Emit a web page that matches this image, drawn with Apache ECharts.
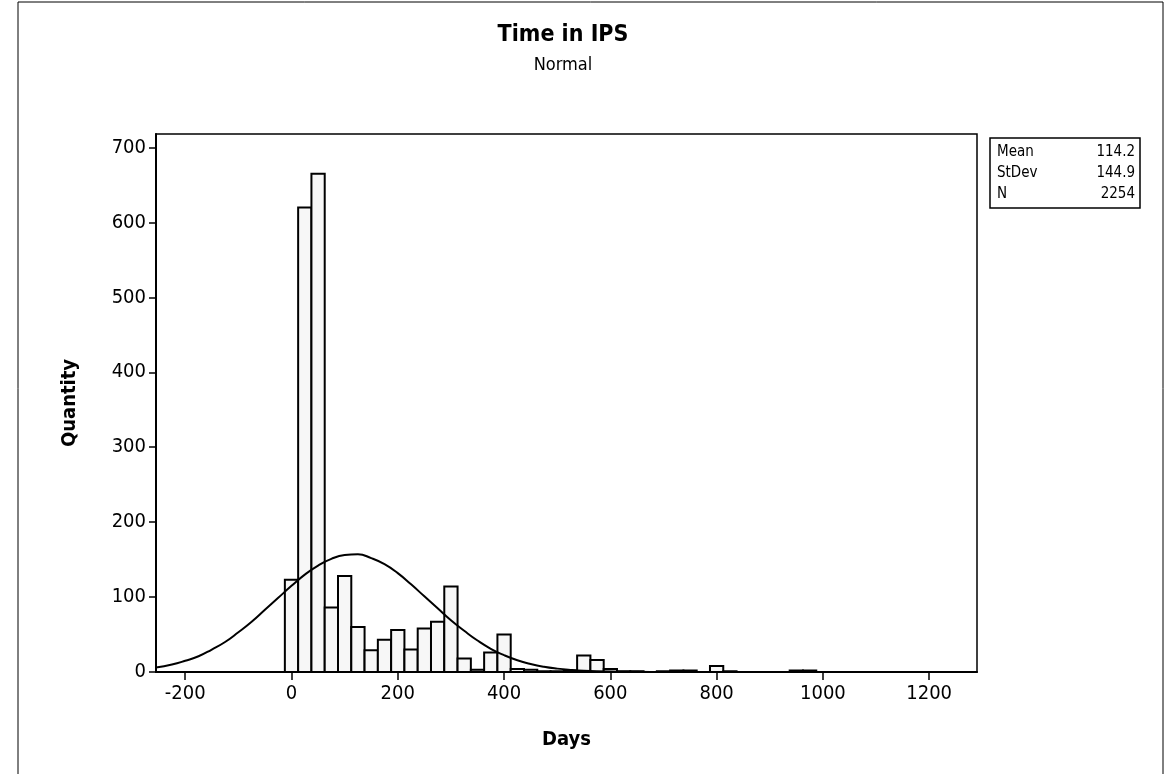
<!DOCTYPE html>
<html>
<head>
<meta charset="utf-8">
<script src="https://cdn.jsdelivr.net/npm/echarts@6/dist/echarts.min.js"></script>
<style>html,body{margin:0;padding:0;background:#fff}#c{width:1166px;height:774px}</style>
</head>
<body>
<div id="c"></div>
<script>
// Histogram bins (bin centers, days) and counts
const binCenters = [0,25,50,75,100,125,150,175,200,225,250,275,300,325,350,375,400,425,450,475,500,525,550,575,600,625,650,700,725,750,800,825,950,975];
const binCounts  = [123,620,665,86,128,60,29,43,56,30,58,67,114,18,3,26,50,4,3,1,1,2,22,16,4,1,1,1,2,2,8,1,2,2];
const binWidth = 25;
// Fitted normal curve
const curveX = [-255,-225,-200,-175,-150,-125,-100,-75,-50,-25,0,25,50,75,100,125,150,175,200,225,250,275,300,325,350,375,400,425,450,475,500,525,550,600,650,700,1290];
const curveY = [6,10,15,21,30,40,53,67,83,99,115,130,142,151,156,157,152,144,132,117,101,85,69,55,42,31,22.5,15.7,10.7,7,4.5,2.8,1.7,0.6,0.2,0,0];
const xTicks = [-200,0,200,400,600,800,1000,1200];
const yTicks = [0,100,200,300,400,500,600,700];
const titleText = 'Time in IPS';
const subtitleText = 'Normal';
const statLabels = ['Mean','StDev','N'];
const statValues = ['114.2','144.9','2254'];

const FONT = "'DejaVu Sans Condensed','DejaVu Sans',sans-serif";
const chart = echarts.init(document.getElementById('c'), null, {renderer:'canvas'});

const statsGraphics = [{
  type:'rect', shape:{x:990, y:138, width:150, height:70},
  style:{fill:'#fff', stroke:'#000', lineWidth:1.5}
}];
statLabels.forEach((l,i)=>{
  statsGraphics.push({type:'text', x:997, y:152+i*21, style:{text:l, font:'15px '+FONT, fill:'#000', textVerticalAlign:'middle'}});
  statsGraphics.push({type:'text', x:1135, y:152+i*21, style:{text:statValues[i], font:'15px '+FONT, fill:'#000', textAlign:'right', textVerticalAlign:'middle'}});
});

chart.setOption({
  animation:false,
  backgroundColor:'#fff',
  grid:{left:156, right:189, top:134, bottom:102, show:true, borderColor:'#000', borderWidth:1.5, backgroundColor:'transparent'},
  xAxis:{
    type:'value', min:-255, max:1290,
    name:'Days', nameLocation:'middle', nameGap:58,
    nameTextStyle:{fontFamily:FONT, fontSize:20, fontWeight:'bold', color:'#000'},
    axisLine:{show:true, onZero:false, lineStyle:{color:'#000', width:2}},
    axisTick:{show:true, inside:false, length:8, customValues:xTicks, lineStyle:{color:'#000', width:1.5}},
    axisLabel:{customValues:xTicks, margin:12, fontFamily:FONT, fontSize:20, color:'#000', formatter:function(v){return String(v);}},
    splitLine:{show:false}
  },
  yAxis:{
    type:'value', min:0, max:718,
    name:'Quantity', nameLocation:'middle', nameGap:76, nameRotate:90,
    nameTextStyle:{fontFamily:FONT, fontSize:20, fontWeight:'bold', color:'#000'},
    axisLine:{show:true, onZero:false, lineStyle:{color:'#000', width:2}},
    axisTick:{show:true, inside:false, length:7, customValues:yTicks, lineStyle:{color:'#000', width:1.5}},
    axisLabel:{customValues:yTicks, margin:10, fontFamily:FONT, fontSize:20, color:'#000', formatter:function(v){return String(v);}},
    splitLine:{show:false}
  },
  graphic:[
    {type:'rect', shape:{x:18, y:2, width:1145, height:800}, style:{fill:'none', stroke:'#000', lineWidth:1}, silent:true, z:-10},
    {type:'text', x:563, y:35, style:{text:titleText, font:'bold 23px '+FONT, fill:'#000', textAlign:'center', textVerticalAlign:'middle'}},
    {type:'text', x:563, y:65, style:{text:subtitleText, font:'18px '+FONT, fill:'#000', textAlign:'center', textVerticalAlign:'middle'}},
    ...statsGraphics
  ],
  series:[
    {
      type:'custom',
      data: binCenters.map((c,i)=>[c, binCounts[i]]),
      renderItem:function(params, api){
        const c = api.value(0), v = api.value(1);
        const p1 = api.coord([c - binWidth/2, v]);
        const p2 = api.coord([c + binWidth/2, 0]);
        return {type:'rect', shape:{x:p1[0], y:p1[1], width:p2[0]-p1[0], height:p2[1]-p1[1]},
          style:{fill:'#f7f7f7', stroke:'#000', lineWidth:2}};
      },
      z:2
    },
    {
      type:'line', smooth:true, showSymbol:false,
      data: curveX.map((x,i)=>[x, curveY[i]]),
      lineStyle:{color:'#000', width:2},
      z:3
    }
  ]
});
</script>
</body>
</html>
